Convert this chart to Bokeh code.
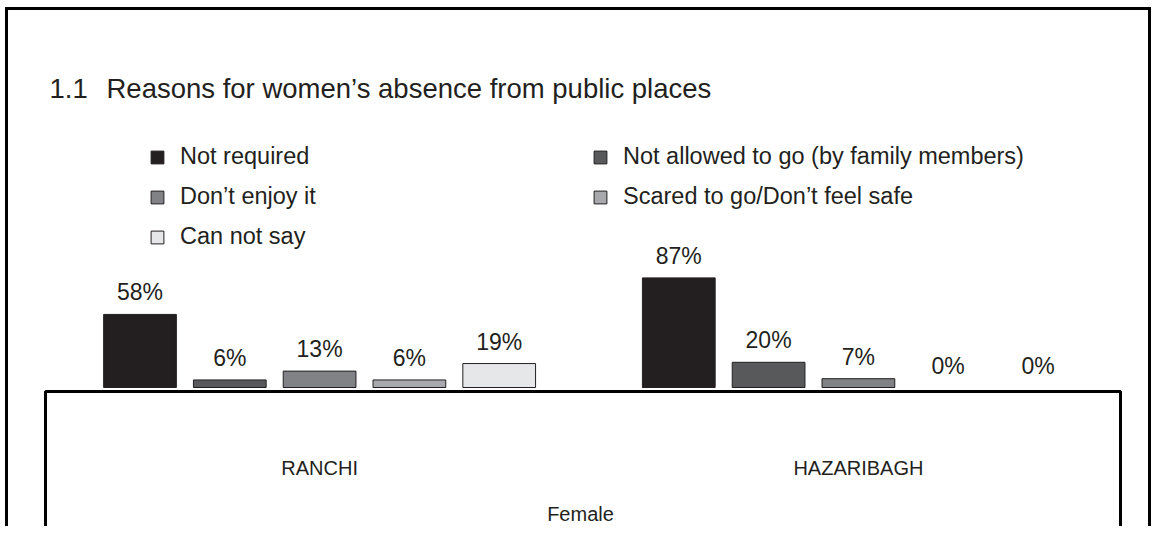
from bokeh.plotting import figure
from bokeh.models import (FactorRange, Range1d, ColumnDataSource, Legend,
                          LegendItem, BoxAnnotation)
from bokeh.core.properties import value
from bokeh.embed import file_html
from bokeh.resources import INLINE

# ---- data ----
cities = ["RANCHI", "HAZARIBAGH"]
reasons = [
    "Not required",
    "Not allowed to go (by family members)",
    "Don’t enjoy it",
    "Scared to go/Don’t feel safe",
    "Can not say",
]
ranchi = [58, 6, 13, 6, 19]
hazaribagh = [87, 20, 7, 0, 0]
colors = ["#231f20", "#58595b", "#808285", "#a7a9ac", "#e6e7e8"]
title_num = "1.1"
title_text = "Reasons for women’s absence from public places"
group_title = "Female"

# ---- layout constants ----
W, H = 1146, 519
L = 15            # left border: frame spans canvas x 15..W
FONT = "Liberation Sans"
INK = "#231f20"
BASE = 377.0      # canvas y (px from top) of the 0 % line
PPU = 1.26        # px per percent
SLOT = 89.8       # px per category slot
NFAC = len(reasons) * len(cities) + (len(cities) - 1)
PAD = ((W - L) / SLOT - NFAC) / 2   # factor-range padding on each side
SW = (W - L) / (NFAC + 2 * PAD)


def sx(px):
    """canvas x (px) -> synthetic categorical coordinate"""
    return (px - L) / SW - PAD


factors = [(c, r) for c in cities for r in reasons]
x_range = FactorRange(*factors, factor_padding=0.0, group_padding=1.0,
                      range_padding=PAD, range_padding_units="absolute")
y_range = Range1d(-(H - BASE) / PPU, BASE / PPU)

p = figure(width=W, height=H, x_range=x_range, y_range=y_range,
           output_backend="svg", toolbar_location=None,
           x_axis_location=None, y_axis_location=None,
           min_border_left=L, min_border_right=0,
           min_border_top=0, min_border_bottom=0)
p.grid.visible = False
p.outline_line_color = None
p.background_fill_color = None
p.border_fill_color = None
p.extra_y_ranges = {"px": Range1d(H, 0)}
# outer frame of the exhibit (its bottom edge runs off the page)
p.styles = {
    "transform": "translate(5px, 7px)",
    "border-left": "3px solid black",
    "border-top": "3px solid black",
    "border-right": "3px solid black",
}

# category box below the bars
p.add_layout(BoxAnnotation(left=34, right=1109, top=378, bottom=H + 40,
                           left_units="canvas", right_units="canvas",
                           top_units="canvas", bottom_units="canvas",
                           fill_alpha=0, line_color="black", line_alpha=1,
                           line_width=3))

# bars + value labels
renderers = []
for i, (r, col) in enumerate(zip(reasons, colors)):
    vals = [ranchi[i], hazaribagh[i]]
    src = ColumnDataSource(dict(x=[(c, r) for c in cities], top=vals,
                                label=[f"{v}%" for v in vals],
                                edge=[1.0 if v > 0 else 0.0 for v in vals]))
    rend = p.vbar(x="x", top="top", bottom=0, width=0.81, source=src,
                  fill_color=col, line_color=INK, line_width=1,
                  line_alpha="edge")
    renderers.append(rend)
    p.text(x="x", y="top", text="label", source=src, text_align="center",
           text_baseline="alphabetic", y_offset=-22,
           text_font=value(FONT), text_font_size="23px", text_color=INK)

# city labels (centre of each group)
p.text(x=cities, y=[457, 457], text=cities, y_range_name="px",
       text_align="center", text_baseline="middle",
       text_font=value(FONT), text_font_size="20px", text_color=INK)
# group title below
p.text(x=[sx(572)], y=[503], text=[group_title], y_range_name="px",
       text_align="center", text_baseline="middle",
       text_font=value(FONT), text_font_size="20px", text_color=INK)

# chart title
p.text(x=[sx(41)], y=[78], text=[title_num], y_range_name="px",
       text_align="left", text_baseline="middle",
       text_font=value(FONT), text_font_size="27.5px", text_color=INK)
p.text(x=[sx(98)], y=[78], text=[title_text], y_range_name="px",
       text_align="left", text_baseline="middle",
       text_font=value(FONT), text_font_size="27.5px", text_color=INK)

legend = Legend(
    items=[LegendItem(label=r, renderers=[rend]) for r, rend in zip(reasons, renderers)],
    orientation="horizontal", ncols=2, location=(126, 279),
    glyph_width=16, glyph_height=16, label_standoff=15, label_width=399,
    spacing=13, padding=0, margin=0,
    border_line_color=None, background_fill_alpha=0,
    label_text_font=FONT, label_text_font_size="23.5px", label_text_color=INK,
)
p.add_layout(legend)

open("out.html", "w").write(file_html(p, INLINE))
